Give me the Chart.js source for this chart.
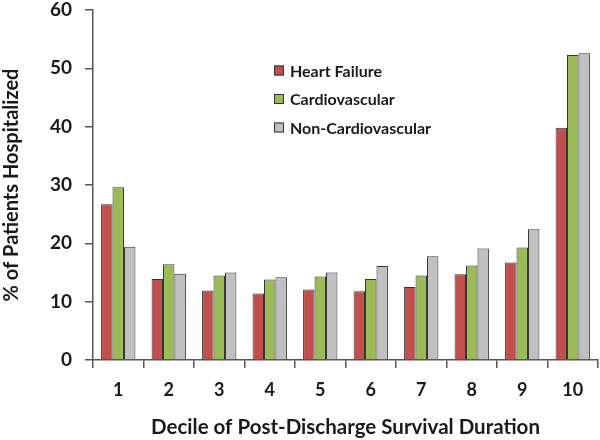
<!DOCTYPE html>
<html>
<head>
<meta charset="utf-8">
<script src="https://cdn.jsdelivr.net/npm/chart.js@4/dist/chart.umd.min.js"></script>
<style>
  html, body { margin: 0; padding: 0; background: #fff; }
  #wrap { width: 600px; height: 440px; }
</style>
</head>
<body>
<div id="wrap"><canvas id="chart" width="600" height="440"></canvas></div>
<script>
// === Data ===
const deciles = ["1", "2", "3", "4", "5", "6", "7", "8", "9", "10"];
const heartFailure = [26.7, 13.9, 11.9, 11.4, 12.1, 11.8, 12.5, 14.7, 16.7, 39.8];
const cardiovascular = [29.6, 16.4, 14.5, 13.8, 14.3, 13.9, 14.5, 16.2, 19.3, 52.3];
const nonCardiovascular = [19.4, 14.8, 15.0, 14.2, 15.0, 16.1, 17.8, 19.1, 22.4, 52.6];
const yTicks = [0, 10, 20, 30, 40, 50, 60];

const FONT = "Lato, 'Open Sans', sans-serif";
const INK = "#1a1a1a";
const AXIS = "#555";

// legend drawn inside the plot area
const insideLegend = {
    id: "insideLegend",
    afterDraw(chart) {
        const ctx = chart.ctx;
        const x = 274, y0 = 70.5, step = 28.5, box = 10;
        ctx.save();
        ctx.font = "bold 16px " + FONT;
        ctx.textBaseline = "middle";
        chart.data.datasets.forEach((ds, i) => {
            const y = y0 + i * step;
            ctx.fillStyle = ds.backgroundColor;
            ctx.fillRect(x, y - box / 2, box, box);
            ctx.strokeStyle = "#333";
            ctx.lineWidth = 1;
            ctx.strokeRect(x + 0.5, y - box / 2 + 0.5, box - 1, box - 1);
            ctx.fillStyle = INK;
            ctx.fillText(ds.label, x + 16, y + 1);
        });
        ctx.restore();
    }
};

new Chart(document.getElementById("chart"), {
    type: "bar",
    data: {
        labels: deciles,
        datasets: [
            { label: "Heart Failure", data: heartFailure, backgroundColor: "#C0504D" },
            { label: "Cardiovascular", data: cardiovascular, backgroundColor: "#9BBB59" },
            { label: "Non-Cardiovascular", data: nonCardiovascular, backgroundColor: "#C0C0C0" }
        ].map(d => Object.assign(d, {
            borderColor: "#333",
            borderWidth: 1,
            categoryPercentage: 0.68,
            barPercentage: 1.0
        }))
    },
    options: {
        responsive: false,
        animation: false,
        layout: { padding: { top: 0, right: 2, left: 0, bottom: 0 } },
        plugins: { legend: { display: false }, tooltip: { enabled: false } },
        scales: {
            x: {
                offset: true,
                grid: { display: true, offset: true, drawOnChartArea: false, drawTicks: true, tickLength: 8, color: AXIS, lineWidth: 1.5 },
                border: { color: AXIS, width: 1.5 },
                ticks: { color: INK, font: { family: FONT, size: 18, weight: "bold" }, padding: 11, maxRotation: 0 },
                title: { display: true, text: "Decile of Post-Discharge Survival Duration", color: INK,
                         font: { family: FONT, size: 20.5, weight: "bold" }, padding: { top: 10, bottom: 0 } },
                afterFit(scale) { scale.height = 80; }
            },
            y: {
                min: 0, max: 60,
                afterBuildTicks(scale) { scale.ticks = yTicks.map(v => ({ value: v })); },
                grid: { display: true, drawOnChartArea: false, drawTicks: true, tickLength: 8, color: AXIS, lineWidth: 1.5 },
                border: { color: AXIS, width: 1.5 },
                ticks: { color: INK, font: { family: FONT, size: 19, weight: "bold" }, padding: 13 },
                title: { display: true, text: "% of Patients Hospitalized", color: INK,
                         font: { family: FONT, size: 20, weight: "bold" }, padding: { top: 0, bottom: 4 } },
                afterFit(scale) {
                    scale.width = 93;
                    scale.paddingTop = 10;
                    scale.paddingBottom = 0;
                }
            }
        }
    },
    plugins: [insideLegend]
});
</script>
</body>
</html>
